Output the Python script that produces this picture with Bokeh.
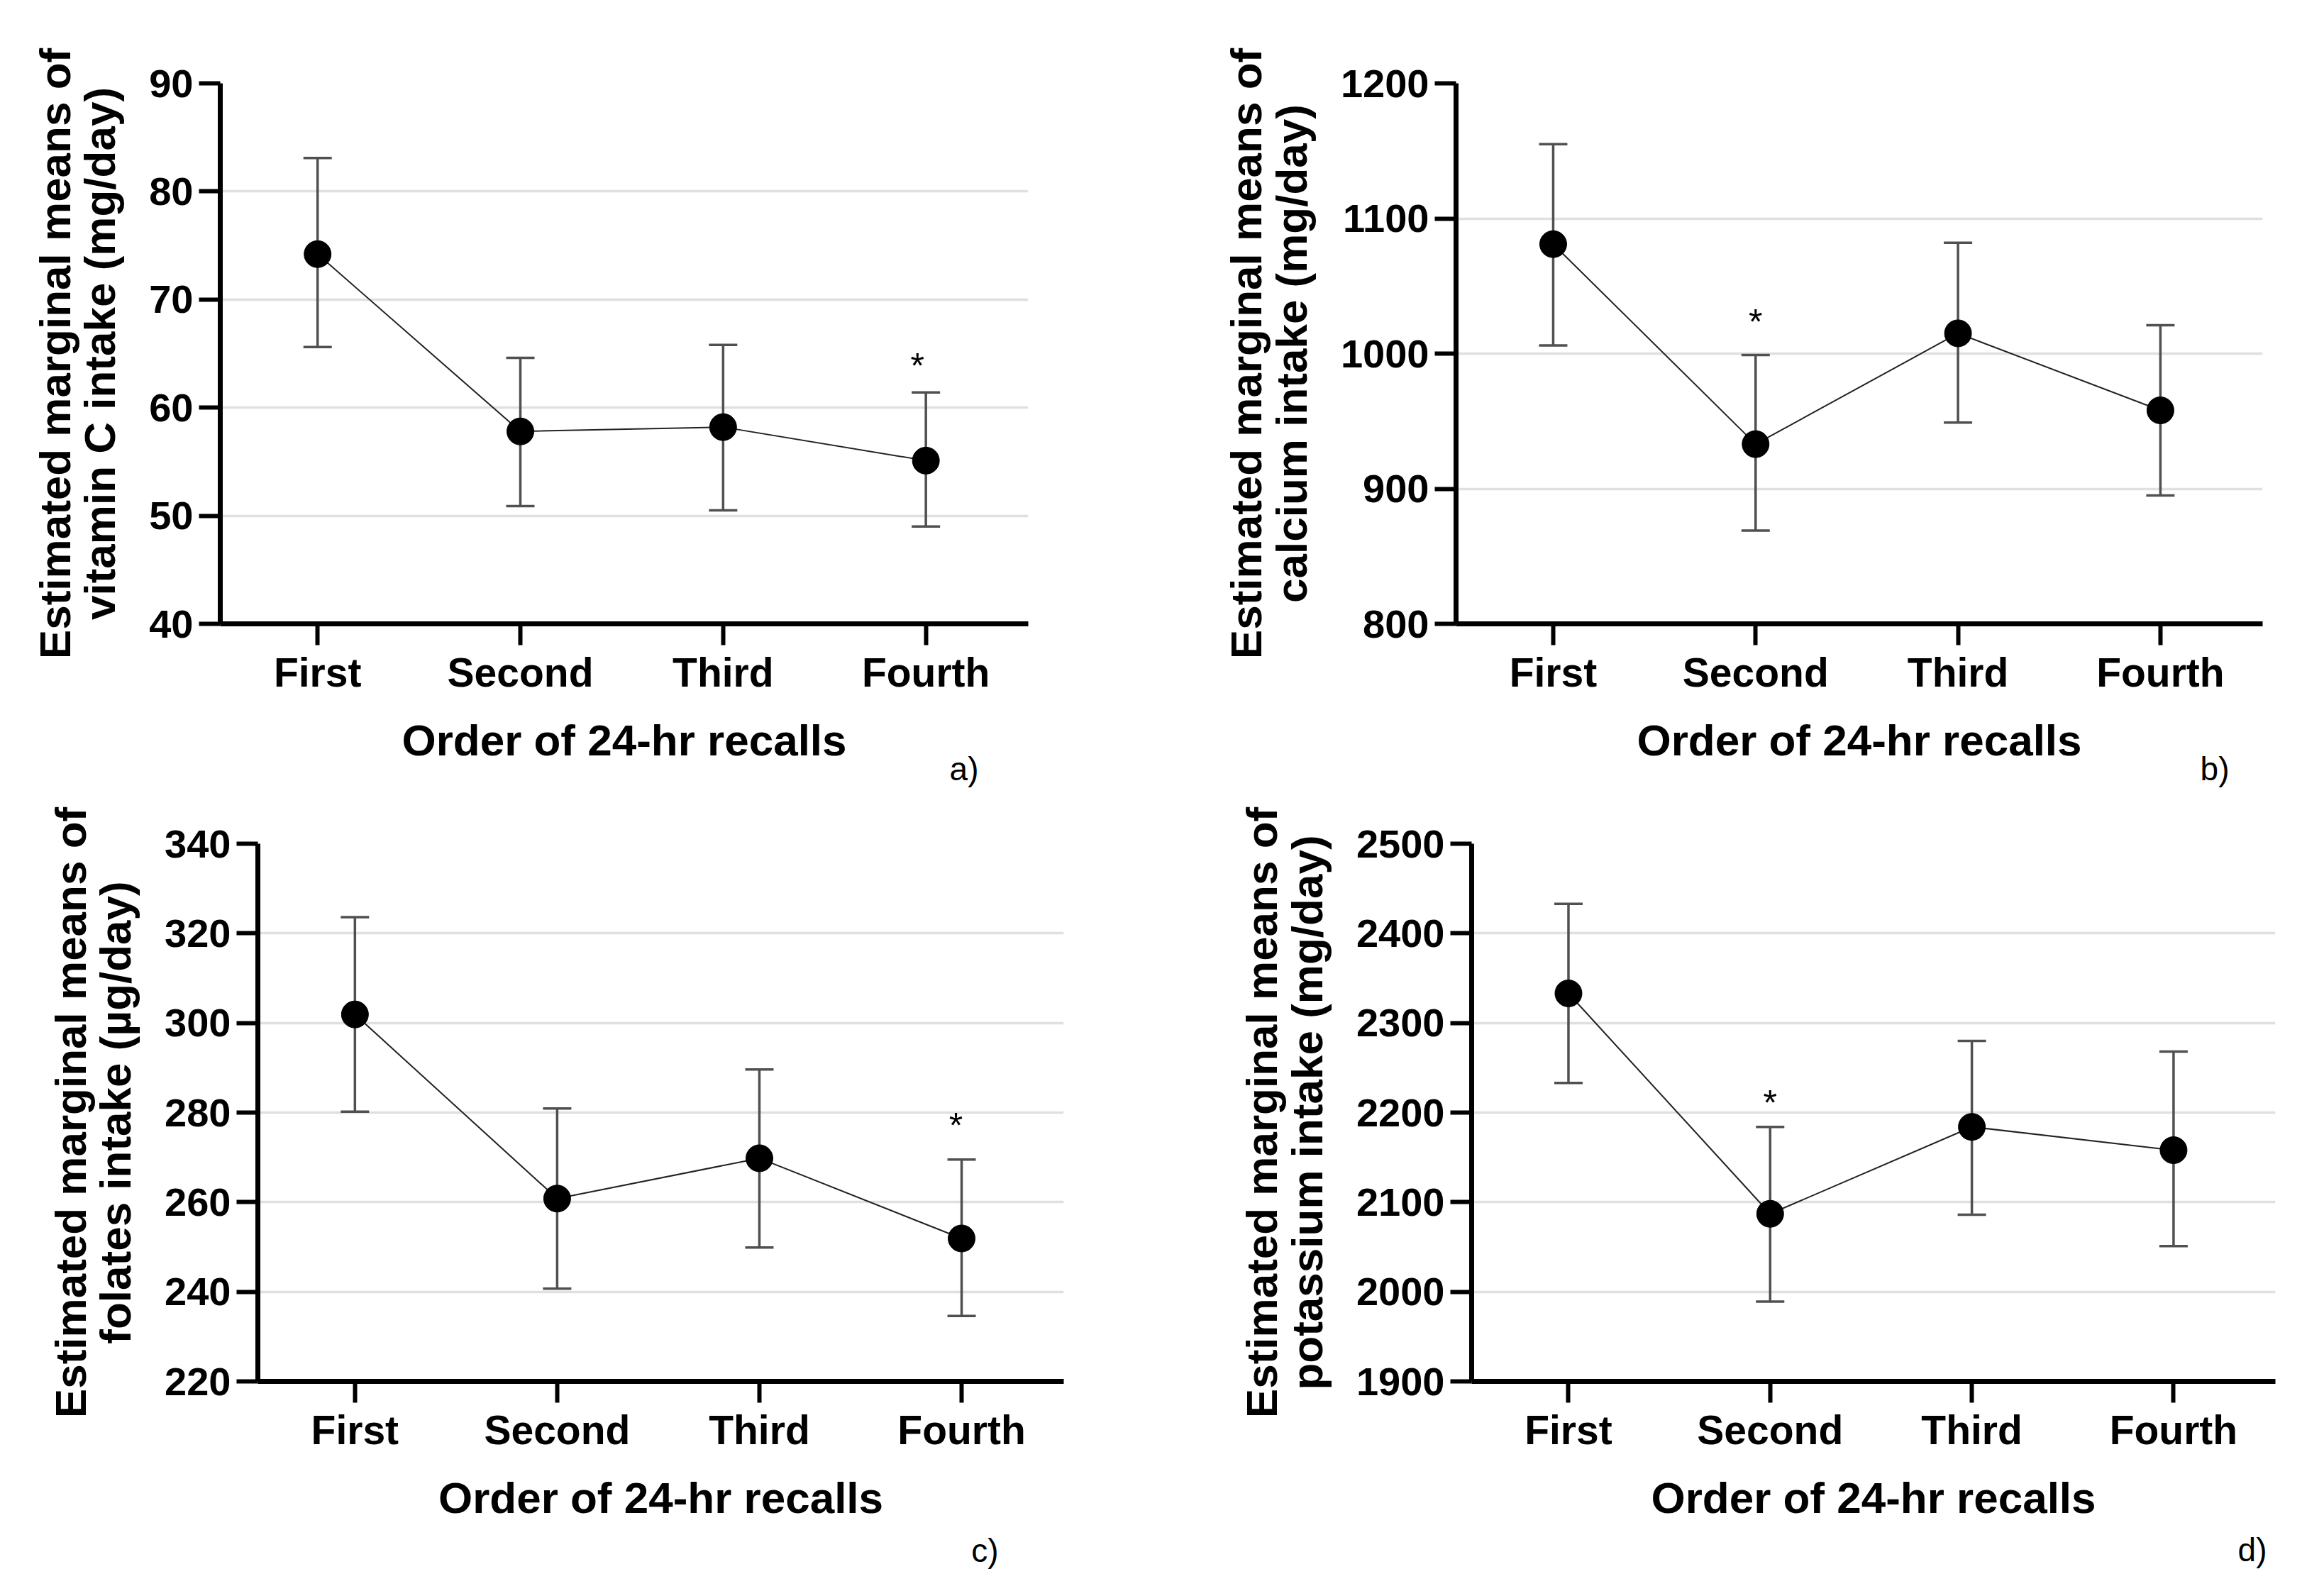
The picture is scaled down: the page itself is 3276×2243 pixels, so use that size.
from bokeh.plotting import figure
from bokeh.models import ColumnDataSource, Whisker, TeeHead, FixedTicker, Range1d, Title
from bokeh.layouts import column, row
from bokeh.embed import file_html
from bokeh.resources import INLINE
from bokeh.core.properties import value

FONT = "Liberation Sans"

categories = ["First", "Second", "Third", "Fourth"]
x_label = "Order of 24-hr recalls"

# a) vitamin C
vitc_mean = [74.2, 57.8, 58.2, 55.1]
vitc_lower = [65.6, 50.9, 50.5, 49.0]
vitc_upper = [83.1, 64.6, 65.8, 61.4]
vitc_ticks = [40, 50, 60, 70, 80, 90]
vitc_star = (3, 64.2)

# b) calcium
calc_mean = [1081, 933, 1015, 958]
calc_lower = [1006, 869, 949, 895]
calc_upper = [1155, 999, 1082, 1021]
calc_ticks = [800, 900, 1000, 1100, 1200]
calc_star = (1, 1026)

# c) folates
fol_mean = [301.9, 260.8, 269.8, 251.9]
fol_lower = [280.2, 240.7, 249.9, 234.6]
fol_upper = [323.6, 280.9, 289.6, 269.5]
fol_ticks = [220, 240, 260, 280, 300, 320, 340]
fol_star = (3, 277.9)

# d) potassium
pot_mean = [2333, 2087, 2184, 2158]
pot_lower = [2233, 1989, 2086, 2051]
pot_upper = [2433, 2184, 2280, 2268]
pot_ticks = [1900, 2000, 2100, 2200, 2300, 2400, 2500]
pot_star = (1, 2215)

XMIN, XMAX = -0.48, 3.505


def panel(means, lowers, uppers, ticks, star, ylab, tag, geom):
    (w, h, bl, br, bt, bb, tag_off, tag_stand, star_dx) = geom
    ymin, ymax = ticks[0], ticks[-1]
    fh = h - bt - bb
    p = figure(width=w, height=h, output_backend="svg", toolbar_location=None,
               x_range=Range1d(XMIN, XMAX), y_range=Range1d(ymin, ymax),
               min_border_left=bl, min_border_right=br,
               min_border_top=bt, min_border_bottom=bb)
    p.outline_line_color = None
    p.background_fill_color = "white"
    p.border_fill_color = "white"
    xs = list(range(len(categories)))

    p.xgrid.visible = False
    p.ygrid.ticker = FixedTicker(ticks=ticks[1:-1])
    p.ygrid.grid_line_color = "#e0e0e0"
    p.ygrid.grid_line_width = 3.5

    p.xaxis.ticker = FixedTicker(ticks=xs)
    p.xaxis.major_label_overrides = {i: c for i, c in enumerate(categories)}
    p.yaxis.ticker = FixedTicker(ticks=ticks)

    for ax in (p.xaxis[0], p.yaxis[0]):
        ax.axis_line_width = 7
        ax.axis_line_color = "black"
        ax.major_tick_line_width = 6
        ax.major_tick_line_color = "black"
        ax.major_tick_in = 0
        ax.major_tick_out = 30
        ax.minor_tick_line_color = None
        ax.major_label_text_font = FONT
        ax.major_label_text_font_style = "bold"
        ax.major_label_text_color = "black"
        ax.axis_label_text_font = FONT
        ax.axis_label_text_font_style = "bold"
        ax.axis_label_text_color = "black"
        ax.axis_label_text_font_size = "62px"

    p.yaxis.axis_label_text_line_height = 0.92
    p.xaxis.major_label_text_font_size = "57px"
    p.yaxis.major_label_text_font_size = "56px"
    p.xaxis.major_label_standoff = 6
    p.yaxis.major_label_standoff = 8
    p.xaxis.axis_label = x_label
    p.yaxis.axis_label = ylab
    p.xaxis.axis_label_standoff = 26
    p.yaxis.axis_label_standoff = 32

    src = ColumnDataSource(dict(x=xs, m=means, lo=lowers, hi=uppers))
    ebar_col = "#505050"
    wk = Whisker(base="x", lower="lo", upper="hi", source=src,
                 line_color=ebar_col, line_width=3.5,
                 upper_head=TeeHead(size=40, line_color=ebar_col, line_width=3.5),
                 lower_head=TeeHead(size=40, line_color=ebar_col, line_width=3.5),
                 level="underlay")
    p.add_layout(wk)
    p.line("x", "m", source=src, line_color="#222222", line_width=2)
    p.scatter("x", "m", source=src, size=38, color="black")

    # asterisk: glyph sits above the em-box middle, shift a few px down
    star_shift = 5 * (ymax - ymin) / fh
    p.text(x=[star[0]], y=[star[1] - star_shift], text=["*"], text_font=value(FONT),
           text_font_size="50px", text_align="center", text_baseline="middle",
           x_offset=star_dx, text_color="black")

    # panel tag, right-aligned under the plot
    p.add_layout(Title(text=tag, align="right", offset=tag_off, standoff=tag_stand,
                       vertical_align="middle", text_font=FONT,
                       text_font_size="46px", text_font_style="normal",
                       text_color="black"), "below")
    return p


pa = panel(vitc_mean, vitc_lower, vitc_upper, vitc_ticks, vitc_star,
           "Estimated marginal means of\nvitamin C intake (mg/day)", "a)",
           (1640, 1110, 310, 191, 117, 231, 70, -48, -12))
pb = panel(calc_mean, calc_lower, calc_upper, calc_ticks, calc_star,
           "Estimated marginal means of\ncalcium intake (mg/day)", "b)",
           (1610, 1110, 412, 61, 117, 231, 47, -48, 0))
pc = panel(fol_mean, fol_lower, fol_upper, fol_ticks, fol_star,
           "Estimated marginal means of\nfolates intake (\u00b5g/day)", "c)",
           (1640, 1115, 363, 141, 78, 272, 92, 20, -8))
pd = panel(pot_mean, pot_lower, pot_upper, pot_ticks, pot_star,
           "Estimated marginal means of\npotassium intake (mg/day)", "d)",
           (1610, 1115, 434, 43, 79, 278, 12, 19, 0))

layout = column(row(pa, pb), row(pc, pd))
open("out.html", "w").write(file_html(layout, INLINE))
